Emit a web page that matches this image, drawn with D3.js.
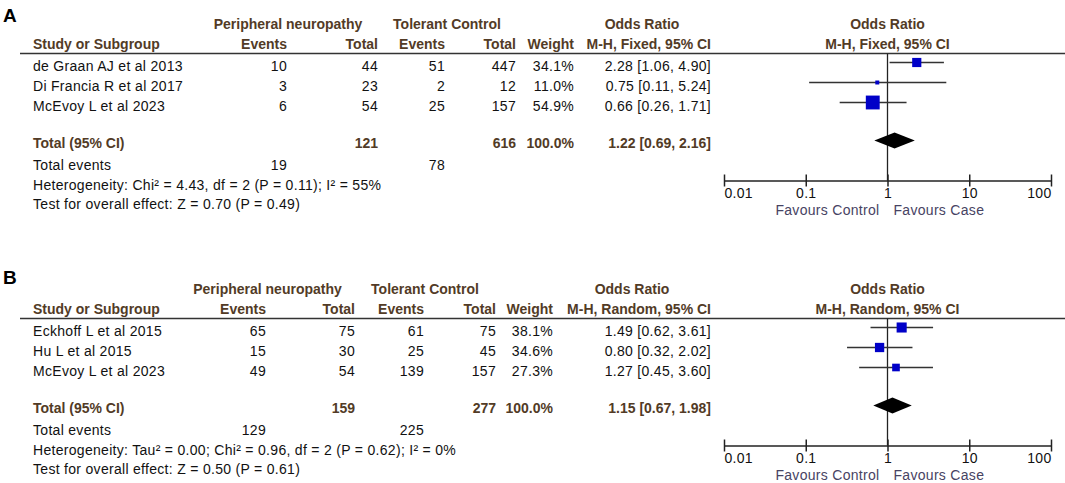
<!DOCTYPE html>
<html>
<head>
<meta charset="utf-8">
<script src="https://cdn.jsdelivr.net/npm/d3@7"></script>
<style>
  body { margin: 0; background: #fff; }
  svg { display: block; font-family: "Liberation Sans", Arial, sans-serif; }
  .reg { font-size: 14px; letter-spacing: 0.3px; fill: #111; }
  .hdr { font-size: 14px; font-weight: bold; fill: #523b26; }
  .fav { font-size: 14px; letter-spacing: 0.3px; fill: #474363; }
</style>
</head>
<body>
<div id="chart"></div>
<script>
/* * * * * * * * * * * * * *
 *       Forest plots       *
 * * * * * * * * * * * * * */

// ---- panel A (fixed effect) ----
const studiesA = ["de Graan AJ et al 2013", "Di Francia R et al 2017", "McEvoy L et al 2023"];
const caseEventsA = [10, 3, 6];
const caseTotalA = [44, 23, 54];
const ctrlEventsA = [51, 2, 25];
const ctrlTotalA = [447, 12, 157];
const weightA = [34.1, 11.0, 54.9];
const orA = [2.28, 0.75, 0.66];
const lowerA = [1.06, 0.11, 0.26];
const upperA = [4.90, 5.24, 1.71];
const pooledA = [1.22, 0.69, 2.16];          // OR, lower, upper
const totalsA = [121, 616];                   // case total, control total
const totalEventsA = [19, 78];
const hetA = { tau2: null, chi2: 4.43, df: 2, p: 0.11, i2: 55 };
const overallA = { z: 0.70, p: 0.49 };

// ---- panel B (random effects) ----
const studiesB = ["Eckhoff L et al 2015", "Hu L et al 2015", "McEvoy L et al 2023"];
const caseEventsB = [65, 15, 49];
const caseTotalB = [75, 30, 54];
const ctrlEventsB = [61, 25, 139];
const ctrlTotalB = [75, 45, 157];
const weightB = [38.1, 34.6, 27.3];
const orB = [1.49, 0.80, 1.27];
const lowerB = [0.62, 0.32, 0.45];
const upperB = [3.61, 2.02, 3.60];
const pooledB = [1.15, 0.67, 1.98];
const totalsB = [159, 277];
const totalEventsB = [129, 225];
const hetB = { tau2: 0.00, chi2: 0.96, df: 2, p: 0.62, i2: 0 };
const overallB = { z: 0.50, p: 0.61 };

// ---- shared ----
const panelNames = ["A", "B"];
const methods = ["M-H, Fixed, 95% CI", "M-H, Random, 95% CI"];
const groupLabels = ["Peripheral neuropathy", "Tolerant Control"];
const axisTicks = [0.01, 0.1, 1, 10, 100];
const tickLabels = ["0.01", "0.1", "1", "10", "100"];
const favourLabels = ["Favours Control", "Favours Case"];


const panels = [
    {
        name: panelNames[0], method: methods[0], studies: studiesA,
        ce: caseEventsA, ct: caseTotalA, ke: ctrlEventsA, kt: ctrlTotalA,
        w: weightA, or: orA, lo: lowerA, hi: upperA,
        pooled: pooledA, totals: totalsA, events: totalEventsA, het: hetA, overall: overallA
    },
    {
        name: panelNames[1], method: methods[1], studies: studiesB,
        ce: caseEventsB, ct: caseTotalB, ke: ctrlEventsB, kt: ctrlTotalB,
        w: weightB, or: orB, lo: lowerB, hi: upperB,
        pooled: pooledB, totals: totalsB, events: totalEventsB, het: hetB, overall: overallB
    }
];

// column right edges etc. differ slightly between the two tables
const layouts = [
    { top: 0, labelY: 21.5, ev1: 287, tot1: 378, ev2: 445, tot2: 516, wt: 574, orc: 711, g1: 288, g2: 447, orHead: 642 },
    { top: 265, labelY: 18.7, ev1: 266, tot1: 355, ev2: 424, tot2: 496, wt: 553, orc: 711, g1: 267.5, g2: 425, orHead: 632 }
];

const width = 1065, height = 483;

const svg = d3.select("#chart").append("svg")
    .attr("width", width)
    .attr("height", height);

svg.append("rect").attr("width", width).attr("height", height).attr("fill", "#fff");

// log scale for the forest plot
const x = d3.scaleLog().domain([0.01, 100]).range([724, 1051]);
// square size from weight
const boxSize = d3.scaleLinear().domain([0, 100]).range([1.5, 24]);

const f2 = d3.format(".2f");
const f1 = d3.format(".1f");

const rowY = i => 70.5 + i * 20;

function txt(g, cls, xx, yy, anchor, s) {
    return g.append("text")
        .attr("class", cls)
        .attr("x", xx)
        .attr("y", yy)
        .attr("text-anchor", anchor)
        .text(s);
}

function drawPanel(p, L) {
    let g = svg.append("g").attr("transform", "translate(0," + L.top + ")");

    g.append("text")
        .attr("x", 3).attr("y", L.labelY)
        .attr("font-size", 19).attr("font-weight", "bold").attr("fill", "#000")
        .text(p.name);

    // headers
    let h1 = 29, h2 = 49, rule = 53.5;
    txt(g, "hdr", L.g1, h1, "middle", groupLabels[0]);
    txt(g, "hdr", L.g2, h1, "middle", groupLabels[1]);
    txt(g, "hdr", L.orHead, h1, "middle", "Odds Ratio");
    txt(g, "hdr", x(1), h1, "middle", "Odds Ratio");

    txt(g, "hdr", 33, h2, "start", "Study or Subgroup");
    txt(g, "hdr", L.ev1, h2, "end", "Events");
    txt(g, "hdr", L.tot1, h2, "end", "Total");
    txt(g, "hdr", L.ev2, h2, "end", "Events");
    txt(g, "hdr", L.tot2, h2, "end", "Total");
    txt(g, "hdr", L.wt, h2, "end", "Weight");
    txt(g, "hdr", L.orc, h2, "end", p.method);
    txt(g, "hdr", x(1), h2, "middle", p.method);

    g.append("line")
        .attr("x1", 20).attr("x2", width)
        .attr("y1", rule).attr("y2", rule)
        .attr("stroke", "#333").attr("stroke-width", 1.5);

    // study rows
    p.studies.forEach((s, i) => {
        let y = rowY(i);
        txt(g, "reg", 33, y, "start", s);
        txt(g, "reg", L.ev1, y, "end", p.ce[i]);
        txt(g, "reg", L.tot1, y, "end", p.ct[i]);
        txt(g, "reg", L.ev2, y, "end", p.ke[i]);
        txt(g, "reg", L.tot2, y, "end", p.kt[i]);
        txt(g, "reg", L.wt, y, "end", f1(p.w[i]) + "%");
        txt(g, "reg", L.orc, y, "end", f2(p.or[i]) + " [" + f2(p.lo[i]) + ", " + f2(p.hi[i]) + "]");
    });

    // total row
    let ty = 148;
    txt(g, "hdr", 33, ty, "start", "Total (95% CI)");
    txt(g, "hdr", L.tot1, ty, "end", p.totals[0]);
    txt(g, "hdr", L.tot2, ty, "end", p.totals[1]);
    txt(g, "hdr", L.wt, ty, "end", "100.0%");
    txt(g, "hdr", L.orc, ty, "end", f2(p.pooled[0]) + " [" + f2(p.pooled[1]) + ", " + f2(p.pooled[2]) + "]");

    txt(g, "reg", 33, 169.5, "start", "Total events");
    txt(g, "reg", L.ev1, 169.5, "end", p.events[0]);
    txt(g, "reg", L.ev2, 169.5, "end", p.events[1]);

    let h = p.het;
    let hs = "Heterogeneity: " +
        (h.tau2 !== null ? "Tau\u00b2 = " + f2(h.tau2) + "; " : "") +
        "Chi\u00b2 = " + f2(h.chi2) + ", df = " + h.df + " (P = " + f2(h.p) + "); I\u00b2 = " + h.i2 + "%";
    txt(g, "reg", 33, 189.5, "start", hs);
    txt(g, "reg", 33, 208.5, "start",
        "Test for overall effect: Z = " + f2(p.overall.z) + " (P = " + f2(p.overall.p) + ")");

    // ---- forest plot ----
    let axisY = 180.5;

    g.append("line")
        .attr("x1", x(1)).attr("x2", x(1))
        .attr("y1", rule).attr("y2", axisY)
        .attr("stroke", "#222").attr("stroke-width", 1.3);

    let rows = p.studies.map((s, i) => ({ i: i, or: p.or[i], lo: p.lo[i], hi: p.hi[i], w: p.w[i] }));

    g.selectAll("line.ci")
        .data(rows)
        .enter()
        .append("line")
        .attr("class", "ci")
        .attr("x1", d => x(d.lo))
        .attr("x2", d => x(d.hi))
        .attr("y1", d => rowY(d.i) - 8)
        .attr("y2", d => rowY(d.i) - 8)
        .attr("stroke", "#333")
        .attr("stroke-width", 1.4);

    g.selectAll("rect.box")
        .data(rows)
        .enter()
        .append("rect")
        .attr("class", "box")
        .attr("x", d => x(d.or) - boxSize(d.w) / 2)
        .attr("y", d => rowY(d.i) - 8 - boxSize(d.w) / 2)
        .attr("width", d => boxSize(d.w))
        .attr("height", d => boxSize(d.w))
        .attr("fill", "#0000c8");

    // pooled diamond
    let dy = ty - 7.5;
    g.append("path")
        .attr("d", d3.line()([
            [x(p.pooled[1]), dy],
            [x(p.pooled[0]), dy - 8],
            [x(p.pooled[2]), dy],
            [x(p.pooled[0]), dy + 8]
        ]) + "Z")
        .attr("fill", "#000");

    // axis
    let axis = d3.axisBottom(x)
        .tickValues(axisTicks)
        .tickFormat((d, i) => tickLabels[i])
        .tickSize(6)
        .tickSizeOuter(0);

    let ag = g.append("g")
        .attr("transform", "translate(0," + axisY + ")")
        .call(axis)
        .attr("font-family", null)
        .attr("font-size", null);

    ag.select(".domain").attr("stroke", "#222").attr("stroke-width", 1.5);
    ag.selectAll(".tick line")
        .attr("y1", -6).attr("y2", 6)
        .attr("stroke", "#222").attr("stroke-width", 1.5);
    ag.selectAll(".tick text")
        .attr("class", "reg")
        .attr("fill", null)
        .attr("y", 17.5)
        .attr("dy", null)
        .attr("text-anchor", (d, i) => i === 0 ? "start" : (i === axisTicks.length - 1 ? "end" : "middle"));

    txt(g, "fav", x(1) - 8, 215, "end", favourLabels[0]);
    txt(g, "fav", x(1) + 6, 215, "start", favourLabels[1]);
}

panels.forEach((p, i) => drawPanel(p, layouts[i]));
</script>
</body>
</html>
